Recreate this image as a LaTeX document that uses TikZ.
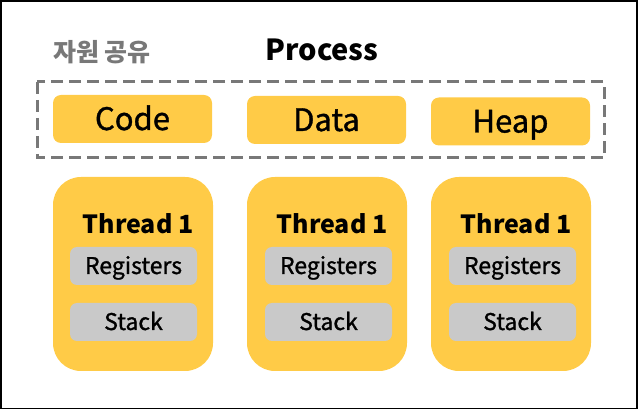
\documentclass[tikz,border=0pt]{standalone}
\usepackage{fontspec}
\setmainfont{Noto Sans CJK KR}
\newfontface\medfont{Noto Sans CJK KR}[FakeBold=1.2]
\usetikzlibrary{positioning}
\definecolor{procyellow}{RGB}{255,203,71}
\definecolor{cellgray}{RGB}{201,201,201}
\definecolor{linegray}{RGB}{120,120,120}
\tikzset{
  segbox/.style={fill=procyellow, rounded corners=8pt, minimum width=159pt, minimum height=48pt,
    inner sep=0pt, text height=22pt, text depth=0pt, font=\medfont\fontsize{31}{32}\selectfont},
  threadbox/.style={fill=procyellow, rounded corners=28pt, minimum width=160pt, minimum height=194pt, inner sep=0pt},
  threadname/.style={inner sep=0pt, text height=18pt, text depth=0pt, font=\bfseries\fontsize{25}{26}\selectfont},
  cellbox/.style={fill=cellgray, rounded corners=7pt, minimum width=127pt, minimum height=38pt,
    inner sep=0pt, text height=16pt, text depth=0pt, font=\medfont\fontsize{23}{24}\selectfont}
}

\begin{document}
\begin{tikzpicture}[x=1pt, y=-1pt]
  \useasboundingbox (0,0) rectangle (640,411);
  \draw[line width=1.5pt] (1,1) rectangle (637,408.5);
  % titles
  \node[text=linegray, font=\bfseries\fontsize{25}{26}\selectfont, inner sep=0pt] (share) at (102,52) {자원 공유};
  \node[font=\bfseries\fontsize{29}{30}\selectfont, inner sep=0pt, text height=21pt, text depth=0pt] (proc) at (322,50.5) {Process};
  % shared segments
  \draw[linegray, line width=3pt, dash pattern=on 12pt off 6pt] (37,82) rectangle (604,158);
  \node[segbox] (code) at (132.5,119) {Code};
  \node[segbox] (data) at (326.5,120) {Data};
  \node[segbox] (heap) at (510.5,121.5) {Heap};
  % Thread 1
  \node[threadbox] (th1) at (133,274) {};
  \node[threadname] (th1name) at (138,225) {Thread 1};
  \node[cellbox] (th1reg) at (133.5,266) {Registers};
  \node[cellbox] (th1stk) at (133.5,322) {Stack};
  % Thread 2
  \node[threadbox] (th2) at (327,274) {};
  \node[threadname] (th2name) at (332,225) {Thread 1};
  \node[cellbox] (th2reg) at (328.5,266) {Registers};
  \node[cellbox] (th2stk) at (328.5,322) {Stack};
  % Thread 3
  \node[threadbox] (th3) at (511,274) {};
  \node[threadname] (th3name) at (516,225) {Thread 1};
  \node[cellbox] (th3reg) at (512.5,266) {Registers};
  \node[cellbox] (th3stk) at (512.5,322) {Stack};
\end{tikzpicture}
\end{document}
